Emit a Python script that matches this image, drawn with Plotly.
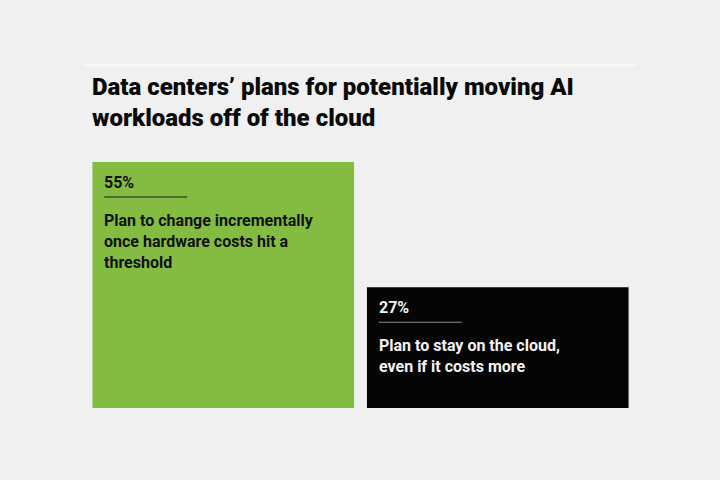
import plotly.graph_objects as go

# chart data
categories = ["incremental", "stay"]
values = [55, 27]
pct_labels = ["55%", "27%"]
descriptions = [
    "Plan to change incrementally<br>once hardware costs hit a<br>threshold",
    "Plan to stay on the cloud,<br>even if it costs more",
]
bar_colors = ["#84bc42", "#050505"]
text_colors = ["#111111", "#f2f2f2"]
rule_colors = ["#1a1a1a", "#8a8a8a"]

TITLE = "Data centers\u2019 plans for potentially moving AI<br>workloads off of the cloud"
BG = "#f0f0f0"
FONT = "Roboto, Lato, sans-serif"
HALF_BAR = 131  # px, half of the drawn bar width

fig = go.Figure(
    go.Bar(
        x=categories,
        y=values,
        marker=dict(color=bar_colors, line=dict(width=0)),
        hoverinfo="skip",
    )
)

annotations = []
shapes = []
for i, cat in enumerate(categories):
    annotations.append(dict(
        x=cat, y=values[i], xref="x", yref="y",
        xanchor="left", yanchor="top",
        xshift=-HALF_BAR + 10, yshift=-9,
        text=pct_labels[i], showarrow=False, align="left",
        font=dict(family=FONT, size=16, weight=700, color=text_colors[i]),
    ))
    annotations.append(dict(
        x=cat, y=values[i], xref="x", yref="y",
        xanchor="left", yanchor="top",
        xshift=-HALF_BAR + 10, yshift=-47,
        text=descriptions[i], showarrow=False, align="left",
        font=dict(family=FONT, size=16, weight=700, color=text_colors[i]),
    ))
    shapes.append(dict(
        type="line", xref="x", yref="y",
        xsizemode="pixel", ysizemode="pixel",
        xanchor=cat, yanchor=values[i],
        x0=-HALF_BAR + 12, x1=-HALF_BAR + 95,
        y0=-35, y1=-35,
        line=dict(color=rule_colors[i], width=1.2),
    ))

# faint white rule above the title
shapes.append(dict(
    type="line", xref="paper", yref="paper",
    x0=-0.0045, x1=1.003, y0=1.394, y1=1.394,
    line=dict(color="#fbfbfb", width=1.2),
))

fig.update_layout(
    width=720, height=480,
    paper_bgcolor=BG, plot_bgcolor=BG,
    margin=dict(l=85.5, r=84.5, t=162, b=72, pad=0),
    bargap=0.047,
    showlegend=False,
    title=dict(
        text=TITLE,
        x=92 / 720, xanchor="left", xref="container",
        y=1 - 95 / 480, yanchor="top", yref="container",
        font=dict(family=FONT, size=24, weight=900, color="#0a0a0a"),
    ),
    xaxis=dict(visible=False, showgrid=False, zeroline=False),
    yaxis=dict(visible=False, showgrid=False, zeroline=False, range=[0, 55]),
    annotations=annotations,
    shapes=shapes,
)

fig.write_html(
    "out.html",
    config={"displayModeBar": False},
    post_script="document.body.style.margin='0';",
)
